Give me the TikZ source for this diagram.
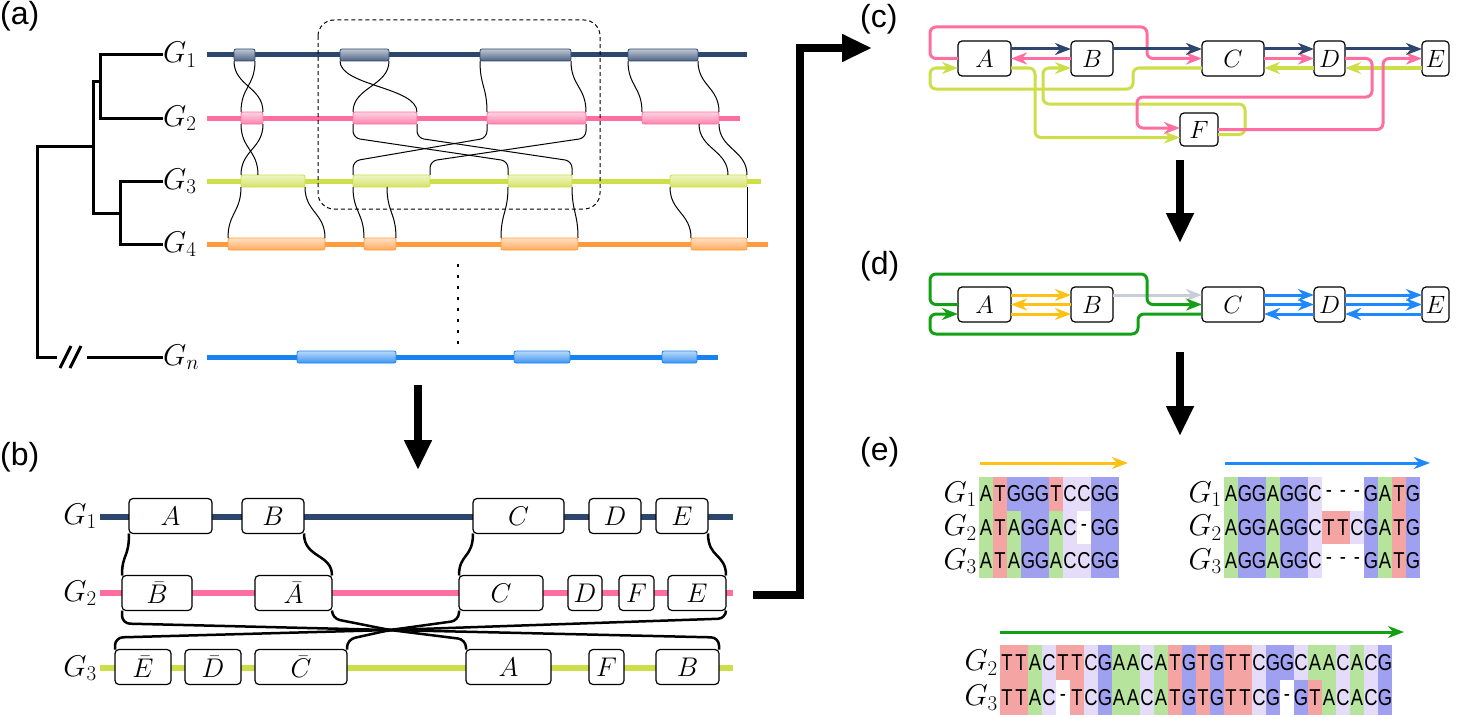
\RequirePackage{fix-cm}
\documentclass[tikz,border=0pt]{standalone}
\usepackage{fontspec}
\newfontfamily\lblfont{Liberation Sans}
\newfontfamily\seqfont[FakeStretch=0.8]{Liberation Sans}
\usepackage{tikz}
\usetikzlibrary{arrows.meta,calc,positioning}

\definecolor{gnavy}{RGB}{44,70,110}
\definecolor{gpink}{RGB}{255,110,160}
\definecolor{glime}{RGB}{205,222,72}
\definecolor{gorange}{RGB}{255,155,60}
\definecolor{gblue}{RGB}{25,130,240}
\definecolor{dgreen}{RGB}{20,160,20}
\definecolor{dgold}{RGB}{255,194,20}
\definecolor{dblue}{RGB}{30,136,255}
\definecolor{dgrey}{RGB}{200,206,216}
\definecolor{cellA}{RGB}{182,228,156}
\definecolor{cellT}{RGB}{245,164,164}
\definecolor{cellG}{RGB}{160,160,240}
\definecolor{cellC}{RGB}{228,220,248}

\tikzset{
  panel/.style={font=\lblfont\fontsize{32}{36}\selectfont, inner sep=0pt, anchor=north west},
  glab/.style={font=\fontsize{30}{33}\selectfont, inner sep=0pt},
  tree/.style={line width=3pt},
  chrom/.style={line width=5pt, draw=#1},
  blk/.style={rounded corners=2pt, minimum height=12pt, inner sep=0pt, outer sep=0pt,
    line width=0.8pt, draw=#1, top color=#1!30, bottom color=#1!85},
  link/.style={line width=1pt},
  gene/.style={draw, rounded corners=4pt, fill=white, line width=1.2pt, minimum height=35pt,
    inner sep=0pt, outer sep=0pt, font=\fontsize{27}{30}\selectfont},
  blink/.style={line width=2.5pt, rounded corners=8pt},
  bigarr/.style={line width=8pt, -{Triangle[length=30pt,width=26pt]}},
  cbox/.style={gene, font=\fontsize{25}{28}\selectfont},
  flow/.style={line width=3pt, rounded corners=6pt, draw=#1,
    -{Stealth[length=16pt,width=12pt,inset=5pt]}},
  cell/.style={minimum width=14pt, minimum height=#1, inner sep=0pt, outer sep=0pt,
    font=\seqfont\fontsize{23}{26}\selectfont},
  cA/.style={fill=cellA}, cT/.style={fill=cellT}, cG/.style={fill=cellG},
  cC/.style={fill=cellC}, c-/.style={}
}

\begin{document}
\begin{tikzpicture}[x=1pt,y=-1pt]
\useasboundingbox (0,0) rectangle (1458,717);

% ---------- (a) ----------
\node[panel] (pa) at (0,1) {(a)};
\node[glab, anchor=west] (la1) at (163,55) {$G_1$};
\node[glab, anchor=west] (la2) at (163,118) {$G_2$};
\node[glab, anchor=west] (la3) at (163,181) {$G_3$};
\node[glab, anchor=west] (la4) at (163,244) {$G_4$};
\node[glab, anchor=west] (lan) at (163,357) {$G_n$};

\draw[tree] (la1.west) -| (100,118) -- (la2.west);
\draw[tree] (la3.west) -| (120,244) -- (la4.west);
\draw[tree] (100,81) -| (93,213) -- (120,213);
\draw[tree] (93,146) -| (37,357) -- (57,357);
\draw[tree] (87,357) -- (lan.west);
\draw[tree] (60,368) -- (71,346) (70,368) -- (81,346);

\draw[chrom=gnavy] (207,55) -- (747,55);
\draw[chrom=gpink] (207,118) -- (740,118);
\draw[chrom=glime] (207,181) -- (761,181);
\draw[chrom=gorange] (207,244) -- (768,244);
\draw[chrom=gblue] (207,357) -- (718,357);

\foreach \n/\l/\r in {a/234/255, b/340/389, c/480/571, d/628/698}
  \node[blk=gnavy, minimum width={\r-\l}] (g1\n) at ({(\l+\r)/2},55) {};
\foreach \n/\l/\r in {a/241/263, b/353/417, c/487/586, d/642/719}
  \node[blk=gpink, minimum width={\r-\l}] (g2\n) at ({(\l+\r)/2},118) {};
\foreach \n/\l/\r in {a/241/305, b/353/430, c/508/572, d/670/747}
  \node[blk=glime, minimum width={\r-\l}] (g3\n) at ({(\l+\r)/2},181) {};
\foreach \n/\l/\r in {a/228/325, b/364/396, c/501/578, d/691/747}
  \node[blk=gorange, minimum width={\r-\l}] (g4\n) at ({(\l+\r)/2},244) {};
\foreach \n/\l/\r in {a/297/396, b/514/570, c/662/697}
  \node[blk=gblue, minimum width={\r-\l}] (gn\n) at ({(\l+\r)/2},357) {};

% G1 -> G2
\draw[link] (g1a.south west) .. controls +(0,25) and +(0,-25) .. (g2a.north east);
\draw[link] (g1a.south east) .. controls +(0,25) and +(0,-25) .. (g2a.north west);
\draw[link] (g1b.south west) .. controls +(0,25) and +(0,-25) .. (g2b.north east);
\draw[link] (g1b.south east) .. controls +(0,25) and +(0,-25) .. (g2b.north west);
\draw[link] (g1c.south west) .. controls +(0,25) and +(0,-25) .. (g2c.north west);
\draw[link] (g1c.south east) .. controls +(0,25) and +(0,-25) .. (g2c.north east);
\draw[link] (g1d.south west) .. controls +(0,25) and +(0,-25) .. (g2d.north west);
\draw[link] (g1d.south east) .. controls +(0,25) and +(0,-25) .. (g2d.north east);
% G2 -> G3
\draw[link] (g2a.south west) .. controls +(0,25) and +(0,-25) .. ([xshift=17pt]g3a.north west);
\draw[link] (g2a.south east) .. controls +(0,25) and +(0,-25) .. (g3a.north west);
\draw[link, rounded corners=7pt] (g2b.south west) -- ++(0,14) -- ($(g3c.north west)+(0,-14)$) -- (g3c.north west);
\draw[link, rounded corners=7pt] (g2b.south east) -- ++(0,14) -- ($(g3c.north east)+(0,-14)$) -- (g3c.north east);
\draw[link, rounded corners=7pt] (g2c.south west) -- ++(0,14) -- ($(g3b.north west)+(0,-14)$) -- (g3b.north west);
\draw[link, rounded corners=7pt] (g2c.south east) -- ++(0,14) -- ($(g3b.north east)+(0,-14)$) -- (g3b.north east);
\draw[link] ([xshift=-20pt]g2d.south east) .. controls +(0,25) and +(0,-25) .. ([xshift=-19pt]g3d.north east);
\draw[link] (g2d.south east) .. controls +(0,25) and +(0,-25) .. (g3d.north east);
% G3 -> G4
\draw[link] (g3a.south west) .. controls +(0,25) and +(0,-25) .. (g4a.north west);
\draw[link] (g3a.south east) .. controls +(0,25) and +(0,-25) .. (g4a.north east);
\draw[link] (g3b.south west) .. controls +(0,25) and +(0,-25) .. (g4b.north west);
\draw[link] ([xshift=34pt]g3b.south west) .. controls +(0,25) and +(0,-25) .. (g4b.north east);
\draw[link] (g3c.south west) .. controls +(0,25) and +(0,-25) .. (g4c.north west);
\draw[link] (g3c.south east) .. controls +(0,25) and +(0,-25) .. (g4c.north east);
\draw[link] (g3d.south west) .. controls +(0,25) and +(0,-25) .. (g4d.north west);
\draw[link] (g3d.south east) .. controls +(0,25) and +(0,-25) .. (g4d.north east);

\draw[line width=1pt, dash pattern=on 4pt off 3pt, rounded corners=16pt] (318,20) rectangle (600,209);
\draw[line width=2.5pt, dash pattern=on 3pt off 8pt] (458,264) -- (458,346);

\coordinate (ar1s) at (418,385);
\coordinate (ar1e) at (418,470);
\draw[bigarr] (ar1s) -- (ar1e);

% ---------- (b) ----------
\node[panel] (pb) at (0,442) {(b)};
\node[glab, anchor=east] (lb1) at (97,516) {$G_1$};
\node[glab, anchor=east] (lb2) at (97,593) {$G_2$};
\node[glab, anchor=east] (lb3) at (97,668) {$G_3$};
\draw[chrom=gnavy, line width=6pt] (100,517) -- (733,517);
\draw[chrom=gpink, line width=6pt] (100,593) -- (733,593);
\draw[chrom=glime, line width=6pt] (100,668) -- (733,668);

\node[gene, minimum width=83] (b1A) at (170.5,516) {$A$};
\node[gene, minimum width=62] (b1B) at (273,516) {$B$};
\node[gene, minimum width=91] (b1C) at (518.5,516) {$C$};
\node[gene, minimum width=52] (b1D) at (615,516) {$D$};
\node[gene, minimum width=52] (b1E) at (682,516) {$E$};

\node[gene, minimum width=70] (b2Bb) at (157,593) {$\bar{B}$};
\node[gene, minimum width=77] (b2Ab) at (293.5,593) {$\bar{A}$};
\node[gene, minimum width=84] (b2C) at (501,593) {$C$};
\node[gene, minimum width=34] (b2D) at (585,593) {$D$};
\node[gene, minimum width=35] (b2F) at (636.5,593) {$F$};
\node[gene, minimum width=58] (b2E) at (697,593) {$E$};

\node[gene, minimum width=56] (b3Eb) at (143,667) {$\bar{E}$};
\node[gene, minimum width=56] (b3Db) at (213,667) {$\bar{D}$};
\node[gene, minimum width=92] (b3Cb) at (301,667) {$\bar{C}$};
\node[gene, minimum width=85] (b3A) at (508.5,667) {$A$};
\node[gene, minimum width=35] (b3F) at (606.5,667) {$F$};
\node[gene, minimum width=63] (b3B) at (687.5,667) {$B$};

\draw[blink] (b1A.south west) .. controls +(0,25) and +(0,-22) .. (b2Bb.north west);
\draw[blink] (b1B.south east) .. controls +(0,25) and +(0,-22) .. (b2Ab.north east);
\draw[blink] (b1C.south west) .. controls +(0,25) and +(0,-22) .. (b2C.north west);
\draw[blink] (b1E.south east) .. controls +(0,25) and +(0,-22) .. (b2E.north east);

\coordinate (bx) at (390,630);
\draw[blink] (b2Bb.south west) -- ++(0,13) -- (bx) -- ($(b3B.north east)+(0,-12)$) -- (b3B.north east);
\draw[blink] (b2Ab.south east) -- ++(0,8) -- (bx) -- ($(b3A.north west)+(0,-10)$) -- (b3A.north west);
\draw[blink] (b2C.south west) -- ++(0,10) -- (bx) -- ($(b3Eb.north west)+(0,-12)$) -- (b3Eb.north west);
\draw[blink] (b2E.south east) -- ++(0,8) -- (bx) -- ($(b3Cb.north east)+(0,-10)$) -- (b3Cb.north east);

\coordinate (ar2s) at (753,595);
\coordinate (ar2e) at (872,48);
\draw[bigarr] (ar2s) -- (800,595) -- (800,48) -- (ar2e);

% ---------- (c) ----------
\node[panel] (pc) at (860,4) {(c)};
\node[cbox, minimum width=53] (cA) at (984.5,58.5) {$A$};
\node[cbox, minimum width=42] (cB) at (1092,58.5) {$B$};
\node[cbox, minimum width=62] (cC) at (1233,58.5) {$C$};
\node[cbox, minimum width=31] (cD) at (1329.5,58.5) {$D$};
\node[cbox, minimum width=27] (cE) at (1435.5,58.5) {$E$};
\node[cbox, minimum width=38, minimum height=33] (cF) at (1199,129.5) {$F$};

\draw[flow=glime] (cA.east |- 0,68) -- (1035,68) -- (1035,137.5) -- ([yshift=-8pt]cF.west);
\draw[flow=glime] ([yshift=-5pt]cF.east) -- (1245,134.5) -- (1245,104) -- (1043,104) -- (1043,68) -- ([yshift=-9.5pt]cB.west);
\draw[flow=glime] ([yshift=-9.5pt]cC.west) -- (1133,68) -- (1133,89) -- (930,89) -- (930,68) -- ([yshift=-9.5pt]cA.west);
\draw[flow=glime] ([yshift=-9.5pt]cE.west) -- ([yshift=-9.5pt]cD.east);
\draw[flow=glime] ([yshift=-9.5pt]cD.west) -- ([yshift=-9.5pt]cC.east);
\draw[flow=gpink] (cD.east) -- (1372,58.5) -- (1372,97) -- (1137,97) -- (1137,128) -- ([yshift=1.5pt]cF.west);
\draw[flow=gpink] (cF.east) -- (1383,129.5) -- (1383,58.5) -- (cE.west);
\draw[flow=gpink] (cA.west) -- (930,58.5) -- (930,27) -- (1147,27) -- (1147,58.5) -- (cC.west);
\draw[flow=gpink] (cB.west) -- (cA.east);
\draw[flow=gpink] (cC.east) -- (cD.west);
\foreach \s/\t in {cA/cB, cB/cC, cC/cD, cD/cE}
  \draw[flow=gnavy] ([yshift=9.5pt]\s.east) -- ([yshift=9.5pt]\t.west);

\coordinate (ar3s) at (1180,160);
\coordinate (ar3e) at (1180,243);
\draw[bigarr] (ar3s) -- (ar3e);

% ---------- (d) ----------
\node[panel] (pd) at (860,251) {(d)};
\node[cbox, minimum width=53] (dA) at (984.5,304.5) {$A$};
\node[cbox, minimum width=42] (dB) at (1092,304.5) {$B$};
\node[cbox, minimum width=62] (dC) at (1233,304.5) {$C$};
\node[cbox, minimum width=31] (dD) at (1329.5,304.5) {$D$};
\node[cbox, minimum width=27] (dE) at (1435.5,304.5) {$E$};

\draw[flow=dgrey] ([yshift=9.5pt]dB.east) -- ([yshift=9.5pt]dC.west);
\draw[flow=dgreen] (dA.west) -- (930,304.5) -- (930,274) -- (1147,274) -- (1147,304.5) -- (dC.west);
\draw[flow=dgreen] ([yshift=-9.5pt]dC.west) -- (1138,314) -- (1138,334) -- (930,334) -- (930,314) -- ([yshift=-9.5pt]dA.west);
\draw[flow=dgold] ([yshift=9.5pt]dA.east) -- ([yshift=9.5pt]dB.west);
\draw[flow=dgold] (dB.west) -- (dA.east);
\draw[flow=dgold] ([yshift=-9.5pt]dA.east) -- ([yshift=-9.5pt]dB.west);
\foreach \s/\t in {dC/dD, dD/dE} {
  \draw[flow=dblue] ([yshift=9.5pt]\s.east) -- ([yshift=9.5pt]\t.west);
  \draw[flow=dblue] (\s.east) -- (\t.west);
  \draw[flow=dblue] ([yshift=-9.5pt]\t.west) -- ([yshift=-9.5pt]\s.east);
}

\coordinate (ar4s) at (1180,352);
\coordinate (ar4e) at (1180,436);
\draw[bigarr] (ar4s) -- (ar4e);

% ---------- (e) ----------
\node[panel] (pe) at (860,437) {(e)};
\coordinate (ea0) at (980,463);   \coordinate (ea1) at (1128,463);
\coordinate (eb0) at (1225,463);  \coordinate (eb1) at (1430,463);
\coordinate (ec0) at (1000,632);  \coordinate (ec1) at (1404,632);
\draw[flow=dgold] (ea0) -- (ea1);
\draw[flow=dblue] (eb0) -- (eb1);
\draw[flow=dgreen] (ec0) -- (ec1);

\node[glab, anchor=east] (le11) at (977,494) {$G_1$};
\node[glab, anchor=east] (le12) at (977,527.5) {$G_2$};
\node[glab, anchor=east] (le13) at (977,561) {$G_3$};
\foreach \ch [count=\i] in {A,T,G,G,G,T,C,C,G,G}
  \node[cell=33.5pt, c\ch] (s1a\i) at (972+14*\i,494) {\ch};
\foreach \ch [count=\i] in {A,T,A,G,G,A,C,-,G,G}
  \node[cell=33.5pt, c\ch] (s1b\i) at (972+14*\i,527.5) {\ch};
\foreach \ch [count=\i] in {A,T,A,G,G,A,C,C,G,G}
  \node[cell=33.5pt, c\ch] (s1c\i) at (972+14*\i,561) {\ch};

\node[glab, anchor=east] (le21) at (1222,494) {$G_1$};
\node[glab, anchor=east] (le22) at (1222,527.5) {$G_2$};
\node[glab, anchor=east] (le23) at (1222,561) {$G_3$};
\foreach \ch [count=\i] in {A,G,G,A,G,G,C,-,-,-,G,A,T,G}
  \node[cell=33.5pt, c\ch] (s2a\i) at (1217+14*\i,494) {\ch};
\foreach \ch [count=\i] in {A,G,G,A,G,G,C,T,T,C,G,A,T,G}
  \node[cell=33.5pt, c\ch] (s2b\i) at (1217+14*\i,527.5) {\ch};
\foreach \ch [count=\i] in {A,G,G,A,G,G,C,-,-,-,G,A,T,G}
  \node[cell=33.5pt, c\ch] (s2c\i) at (1217+14*\i,561) {\ch};

\node[glab, anchor=east] (le32) at (998,662.5) {$G_2$};
\node[glab, anchor=east] (le33) at (998,697.5) {$G_3$};
\foreach \ch [count=\i] in {T,T,A,C,T,T,C,G,A,A,C,A,T,G,T,G,T,T,C,G,G,C,A,A,C,A,C,G}
  \node[cell=35pt, c\ch] (s3a\i) at (993+14*\i,662.5) {\ch};
\foreach \ch [count=\i] in {T,T,A,C,-,T,C,G,A,A,C,A,T,G,T,G,T,T,C,G,-,G,T,A,C,A,C,G}
  \node[cell=35pt, c\ch] (s3b\i) at (993+14*\i,697.5) {\ch};

\end{tikzpicture}
\end{document}
